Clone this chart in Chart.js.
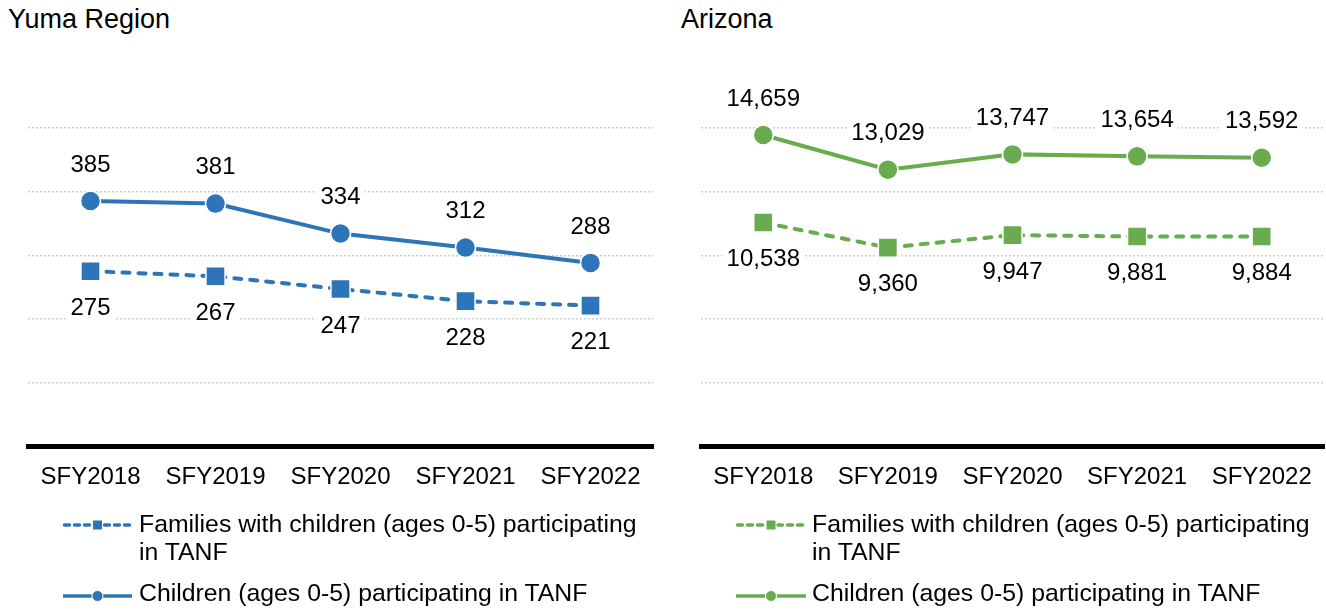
<!DOCTYPE html>
<html><head><meta charset="utf-8">
<script src="https://cdn.jsdelivr.net/npm/chart.js@4"></script>
<style>
html,body{margin:0;padding:0;background:#fff;}
body{width:1326px;height:612px;position:relative;overflow:hidden;font-family:'Liberation Sans',Arial,sans-serif;color:#000;}
.title{position:absolute;top:4px;font-size:27px;line-height:30px;white-space:nowrap;}
canvas{position:absolute;top:0;}
.leg{position:absolute;font-size:24.8px;line-height:28px;white-space:nowrap;}
#legsvg{position:absolute;left:0;top:0;}
</style></head><body>
<div class="title" style="left:8px">Yuma Region</div>
<div class="title" style="left:681px">Arizona</div>
<canvas id="c1" width="660" height="500" style="left:0"></canvas>
<canvas id="c2" width="666" height="500" style="left:660px"></canvas>
<svg id="legsvg" width="1326" height="612"></svg>
<div class="leg" style="left:139px;top:510px">Families with children (ages 0-5) participating<br>in TANF</div>
<div class="leg" style="left:139px;top:579px">Children (ages 0-5) participating in TANF</div>
<div class="leg" style="left:812px;top:510px">Families with children (ages 0-5) participating<br>in TANF</div>
<div class="leg" style="left:812px;top:579px">Children (ages 0-5) participating in TANF</div>
<script>
const categories = ['SFY2018', 'SFY2019', 'SFY2020', 'SFY2021', 'SFY2022'];
const yumaFamilies = [275, 267, 247, 228, 221];
const yumaChildren = [385, 381, 334, 312, 288];
const azFamilies = [10538, 9360, 9947, 9881, 9884];
const azChildren = [14659, 13029, 13747, 13654, 13592];
const seriesNames = ['Families with children (ages 0-5) participating in TANF', 'Children (ages 0-5) participating in TANF'];

const BLUE = '#2E74B8';
const GREEN = '#69AC4F';
const FONT = "'Liberation Sans', Arial, sans-serif";

const labelPlugin = {
  id: 'valueLabels',
  afterDatasetsDraw(chart) {
    const ctx = chart.ctx;
    ctx.save();
    ctx.font = '24px ' + FONT;
    ctx.textAlign = 'center';
    ctx.textBaseline = 'middle';
    chart.data.datasets.forEach((ds, i) => {
      const meta = chart.getDatasetMeta(i);
      const above = i === 1;
      meta.data.forEach((pt, j) => {
        const txt = ds.data[j].toLocaleString('en-US');
        const y = pt.y + (above ? -36 : 37);
        const w = ctx.measureText(txt).width;
        ctx.fillStyle = '#fff';
        ctx.fillRect(pt.x - w / 2 - 4, y - 12, w + 8, 24);
        ctx.fillStyle = '#000';
        ctx.fillText(txt, pt.x, y);
      });
    });
    ctx.restore();
  }
};

function makeChart(id, fam, chi, color, max, step, padL, padR) {
  return new Chart(document.getElementById(id), {
    type: 'line',
    data: {
      labels: categories,
      datasets: [
        { label: seriesNames[0], data: fam, borderColor: color, backgroundColor: color,
          borderWidth: 4, borderDash: [7, 9], borderCapStyle: 'round', tension: 0,
          pointStyle: 'rect', pointRadius: 13.5, pointBackgroundColor: color,
          pointBorderColor: '#fff', pointBorderWidth: 1.5 },
        { label: seriesNames[1], data: chi, borderColor: color, backgroundColor: color,
          borderWidth: 4, tension: 0,
          pointStyle: 'circle', pointRadius: 10, pointBackgroundColor: color,
          pointBorderColor: '#fff', pointBorderWidth: 1.5 }
      ]
    },
    options: {
      responsive: false, animation: false, maintainAspectRatio: false,
      layout: { autoPadding: false, padding: { left: padL, right: padR, top: 64, bottom: 0 } },
      plugins: { legend: { display: false }, tooltip: { enabled: false }, title: { display: false } },
      scales: {
        x: {
          offset: true,
          grid: { display: false, drawTicks: false },
          border: { display: true, color: '#000', width: 5 },
          ticks: { color: '#000', font: { family: FONT, size: 24 }, padding: 16, maxRotation: 0, autoSkip: false },
          afterFit(s) { s.height = 53.5; s.paddingLeft = 0; s.paddingRight = 0; }
        },
        y: {
          min: 0, max: max,
          ticks: { display: false, stepSize: step },
          grid: {
            color: c => (c.tick && (c.tick.value === 0 || c.tick.value === max)) ? 'rgba(0,0,0,0)' : '#cfcfcf',
            lineWidth: 1.5, drawTicks: false
          },
          border: { display: false, dash: [2, 2] },
          afterFit(s) { s.width = 0; s.paddingTop = 0; s.paddingBottom = 0; }
        }
      }
    },
    plugins: [labelPlugin]
  });
}

makeChart('c1', yumaFamilies, yumaChildren, BLUE, 600, 100, 28, 7);
makeChart('c2', azFamilies, azChildren, GREEN, 18000, 3000, 41, 2);

// legend samples
const svg = document.getElementById('legsvg');
const NS = 'http://www.w3.org/2000/svg';
function el(tag, attrs) { const e = document.createElementNS(NS, tag); for (const k in attrs) e.setAttribute(k, attrs[k]); svg.appendChild(e); return e; }
function legendSamples(x0, x1, color) {
  const xm = (x0 + x1) / 2;
  el('line', { x1: x0 + 1.5, y1: 525, x2: x1 - 1.5, y2: 525, stroke: color, 'stroke-width': 3.5, 'stroke-dasharray': '5 5', 'stroke-linecap': 'round' });
  el('rect', { x: xm - 5, y: 520, width: 10, height: 10, fill: color, stroke: '#fff', 'stroke-width': 1 });
  el('line', { x1: x0, y1: 596, x2: x1, y2: 596, stroke: color, 'stroke-width': 3.5 });
  el('circle', { cx: xm, cy: 596, r: 5.5, fill: color, stroke: '#fff', 'stroke-width': 1 });
}
legendSamples(63, 132, BLUE);
legendSamples(736, 806, GREEN);
</script>
</body></html>
